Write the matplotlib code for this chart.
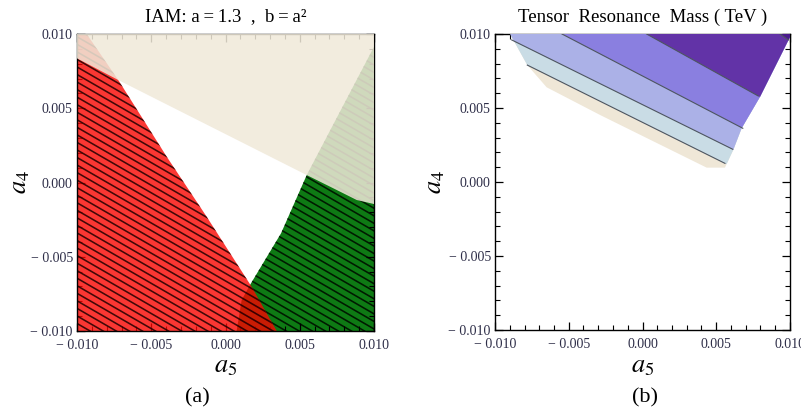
import numpy as np
import matplotlib.pyplot as plt
from matplotlib.patches import Polygon
from matplotlib.collections import LineCollection

plt.rcParams['font.family'] = ['Liberation Serif', 'DejaVu Serif']
plt.rcParams['mathtext.fontset'] = 'stix'

# ---- panel (a): allowed / excluded regions in the (a5, a4) plane
red_a5 = [-0.01, -0.00935, -0.00722, -0.00396, -0.00127, 0.00176, 0.00345, -0.01]
red_a4 = [0.01, 0.01, 0.0069, 0.00174, -0.0023, -0.00702, -0.01, -0.01]
green_a5 = [0.00547, 0.01, 0.01, 0.00075, 0.00109, 0.00165, 0.00374]
green_a4 = [0.0005, 0.00914, -0.01, -0.01, -0.00791, -0.0069, -0.00342]
beige_a5 = [-0.01, 0.01, 0.01, 0.00884, 0.00726, 0.00547, -0.00722, -0.01]
beige_a4 = [0.01, 0.01, -0.00145, -0.00118, -0.00039, 0.0005, 0.0069, 0.00836]

# ---- panel (b): tensor resonance mass contours
outer_a5 = [-0.00898, -0.00781, -0.0065, -0.00288, 0.00435, 0.00559, 0.00615,
            0.00672, 0.00797, 0.01, 0.01]
outer_a4 = [0.01, 0.0079, 0.0064, 0.00453, 0.00097, 0.00097, 0.00216,
            0.00363, 0.00576, 0.0098, 0.01]
# contour lines: (a5 start, a4 start, a5 end, a4 end)
contour_lines = [
    (-0.00781, 0.0079, 0.00559, 0.00126),
    (-0.00887, 0.0096, 0.00612, 0.00221),
    (-0.00546, 0.01, 0.0068, 0.00363),
    (0.00028, 0.01, 0.00785, 0.00581),
    (0.00932, 0.01, 0.00989, 0.0096),
]
band_colors = ['#efe7d7', '#c9dce5', '#abb1e7', '#8a7fe0', '#6233a7', '#4a1a8c']

ticks = [-0.01, -0.005, 0.0, 0.005, 0.01]
tick_labels = ['\u2212 0.010', '\u2212 0.005', '0.000', '0.005', '0.010']
minor_ticks = np.arange(-0.01, 0.0101, 0.001)


def style_axes(ax):
    ax.set_xlim(-0.01, 0.01)
    ax.set_ylim(-0.01, 0.01)
    ax.set_xticks(ticks)
    ax.set_yticks(ticks)
    ax.set_xticklabels(tick_labels)
    ax.set_yticklabels(tick_labels)
    ax.set_xticks(minor_ticks, minor=True)
    ax.set_yticks(minor_ticks, minor=True)
    ax.tick_params(which='both', direction='in', top=True, right=True,
                   labelsize=10, labelcolor='#2e2e48')
    ax.tick_params(axis='x', which='both', pad=6)
    ax.tick_params(axis='y', which='both', pad=3)
    ax.tick_params(which='major', length=6, width=0.9)
    ax.tick_params(which='minor', length=3.5, width=0.8)
    for s in ax.spines.values():
        s.set_linewidth(1.0)
    ax.set_xlabel(r'$a_5$', fontsize=19, va='center')
    ax.set_ylabel(r'$a_4$', fontsize=19, va='center')


def hatch(ax, patch, color, angle=30, step=4.4e-4, lw=1.15, alpha=1.0):
    t = np.tan(np.radians(angle))
    offs = np.arange(-0.03, 0.03, step / np.cos(np.radians(angle)))
    segs = [[(-0.011, c + t * 0.011), (0.011, c - t * 0.011)] for c in offs]
    lc = LineCollection(segs, colors=color, linewidths=lw, alpha=alpha, zorder=patch.get_zorder())
    ax.add_collection(lc)
    lc.set_clip_path(patch)


fig = plt.figure(figsize=(8.01, 4.13), dpi=100)

# panel (a)
ax1 = fig.add_axes([77 / 801, 1 - 331 / 413, 297 / 801, 297 / 413])
green = Polygon(np.column_stack([green_a5, green_a4]), closed=True,
                facecolor='#0e7a14', edgecolor='none', zorder=1)
ax1.add_patch(green)
hatch(ax1, green, '#001a00')
red = Polygon(np.column_stack([red_a5, red_a4]), closed=True,
              facecolor='#f90500', edgecolor='none', alpha=0.8, zorder=2)
ax1.add_patch(red)
hatch(ax1, red, '#200000', alpha=0.85)
beige = Polygon(np.column_stack([beige_a5, beige_a4]), closed=True,
                facecolor='#f0e9d9', edgecolor='none', alpha=0.86, zorder=3)
ax1.add_patch(beige)
style_axes(ax1)
ax1.set_title('IAM: a\u2009=\u20091.3  ,  b\u2009=\u2009a\u00b2', fontsize=13.5, pad=9)
ax1.xaxis.set_label_coords(0.5, -0.122)
ax1.yaxis.set_label_coords(-0.19, 0.5)

# panel (b)
ax2 = fig.add_axes([495 / 801, 1 - 330 / 413, 295 / 801, 296 / 413])
outer = Polygon(np.column_stack([outer_a5, outer_a4]), closed=True,
                facecolor=band_colors[0], edgecolor='none', zorder=1)
ax2.add_patch(outer)
for k, (x0, y0, x1, y1) in enumerate(contour_lines):
    m = (y1 - y0) / (x1 - x0)
    xl, xr = -0.03, 0.03
    poly = [(xl, y0 + m * (xl - x0)), (xr, y0 + m * (xr - x0)), (xr, 0.05), (xl, 0.05)]
    band = Polygon(poly, closed=True, facecolor=band_colors[k + 1],
                   edgecolor='none', zorder=2 + k)
    ax2.add_patch(band)
    band.set_clip_path(outer)
    ax2.plot([x0, x1], [y0, y1], color='#4d5560', lw=0.8, zorder=2 + k + 0.5)
style_axes(ax2)
ax2.set_title('Tensor  Resonance  Mass ( TeV )', fontsize=13.5, pad=9)
ax2.xaxis.set_label_coords(0.5, -0.124)
ax2.yaxis.set_label_coords(-0.2, 0.5)

fig.text(197 / 801, 1 - 398 / 413, '(a)', ha='center', va='center', fontsize=16)
fig.text(645 / 801, 1 - 398 / 413, '(b)', ha='center', va='center', fontsize=16)

fig.savefig('out.png', dpi=100)
